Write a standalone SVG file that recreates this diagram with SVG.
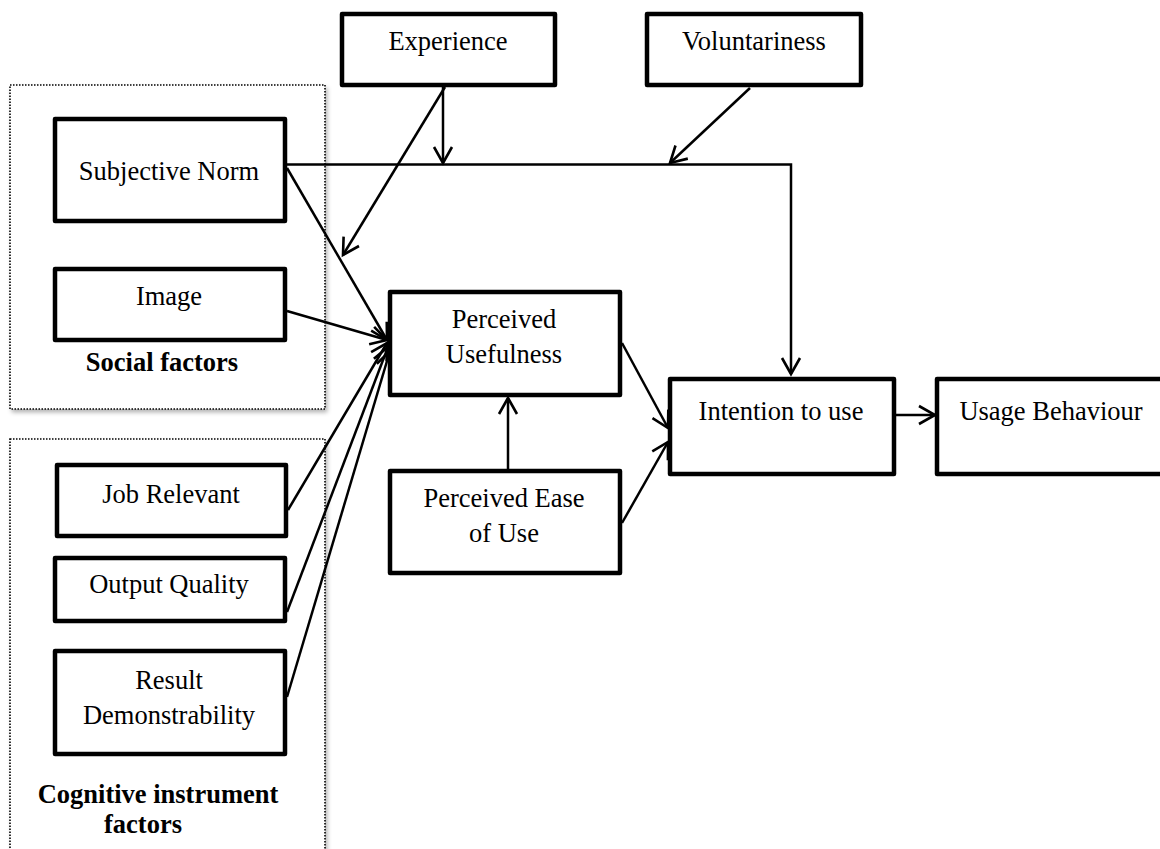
<svg xmlns="http://www.w3.org/2000/svg" width="1160" height="849" viewBox="0 0 1160 849">
  <style>
    .box { fill: #fff; stroke: #000; stroke-width: 4.5; stroke-linejoin: round; }
    .group { fill: #fff; stroke: #000; stroke-width: 1.6; stroke-dasharray: 1.5 1.5; }
    .lbl { font-family: "Liberation Serif", "Times New Roman", serif; font-size: 26.5px; fill: #000; text-anchor: middle; }
    .bold { font-weight: bold; }
    .wire { fill: none; stroke: #000; stroke-width: 2.5; }
    .arr { marker-end: url(#head); }
  </style>
  <defs>
    <marker id="head" markerUnits="userSpaceOnUse" markerWidth="40" markerHeight="40" viewBox="-20 -20 40 40" refX="0" refY="0" orient="auto">
      <path d="M -16 -9 L 0 0 L -16 9" fill="none" stroke="#000" stroke-width="2.6"/>
    </marker>
    <filter id="shadow" x="-5%" y="-5%" width="115%" height="115%">
      <feDropShadow dx="2" dy="3" stdDeviation="2" flood-color="#000" flood-opacity="0.3"/>
    </filter>
  </defs>

  <rect width="1160" height="849" fill="#fff"/>

  <!-- factor groupings -->
  <g id="social-factors">
    <rect class="group" x="10" y="85" width="315" height="324" filter="url(#shadow)"/>
    <text class="lbl bold" x="162" y="371">Social factors</text>
  </g>
  <g id="cognitive-factors">
    <rect class="group" x="10" y="439" width="315" height="440" filter="url(#shadow)"/>
    <text class="lbl bold" x="158" y="803">Cognitive instrument</text>
    <text class="lbl bold" x="143" y="833">factors</text>
  </g>

  <!-- connectors -->
  <g id="connectors">
    <line class="wire arr" x1="443" y1="87" x2="443" y2="163"/>
    <line class="wire arr" x1="445" y1="87" x2="343" y2="255"/>
    <line class="wire arr" x1="750" y1="88" x2="670" y2="163"/>
    <polyline class="wire arr" points="287,164.5 791,164.5 791,374"/>
    <line class="wire arr" x1="287" y1="168" x2="387" y2="340"/>
    <line class="wire arr" x1="287" y1="311" x2="387" y2="340"/>
    <line class="wire arr" x1="288" y1="510" x2="387" y2="343"/>
    <line class="wire arr" x1="287" y1="612" x2="388" y2="347"/>
    <line class="wire arr" x1="287" y1="697" x2="390" y2="351"/>
    <line class="wire arr" x1="508" y1="469" x2="508" y2="398"/>
    <line class="wire arr" x1="622" y1="343" x2="668" y2="428"/>
    <line class="wire arr" x1="622" y1="523" x2="668" y2="442"/>
    <line class="wire arr" x1="896" y1="415" x2="935" y2="415"/>
  </g>

  <!-- nodes -->
  <g id="experience">
    <rect class="box" x="342" y="14" width="213" height="71"/>
    <text class="lbl" x="448" y="50">Experience</text>
  </g>
  <g id="voluntariness">
    <rect class="box" x="647" y="14" width="214" height="71"/>
    <text class="lbl" x="754" y="50">Voluntariness</text>
  </g>
  <g id="subjective-norm">
    <rect class="box" x="55" y="119" width="230" height="102"/>
    <text class="lbl" x="169" y="180">Subjective Norm</text>
  </g>
  <g id="image">
    <rect class="box" x="55" y="269" width="230" height="71"/>
    <text class="lbl" x="169" y="305">Image</text>
  </g>
  <g id="perceived-usefulness">
    <rect class="box" x="390" y="292" width="230" height="103"/>
    <text class="lbl" x="504" y="328">Perceived</text>
    <text class="lbl" x="504" y="363">Usefulness</text>
  </g>
  <g id="perceived-ease-of-use">
    <rect class="box" x="390" y="471" width="230" height="102"/>
    <text class="lbl" x="504" y="507">Perceived Ease</text>
    <text class="lbl" x="504" y="542">of Use</text>
  </g>
  <g id="intention-to-use">
    <rect class="box" x="670" y="379" width="224" height="95"/>
    <text class="lbl" x="781" y="420">Intention to use</text>
  </g>
  <g id="usage-behaviour">
    <rect class="box" x="937" y="379" width="240" height="95"/>
    <text class="lbl" x="1051" y="420">Usage Behaviour</text>
  </g>
  <g id="job-relevant">
    <rect class="box" x="57" y="465" width="229" height="71"/>
    <text class="lbl" x="171" y="503">Job Relevant</text>
  </g>
  <g id="output-quality">
    <rect class="box" x="55" y="558" width="230" height="63"/>
    <text class="lbl" x="169" y="593">Output Quality</text>
  </g>
  <g id="result-demonstrability">
    <rect class="box" x="55" y="651" width="230" height="103"/>
    <text class="lbl" x="169" y="689">Result</text>
    <text class="lbl" x="169" y="724">Demonstrability</text>
  </g>
</svg>
